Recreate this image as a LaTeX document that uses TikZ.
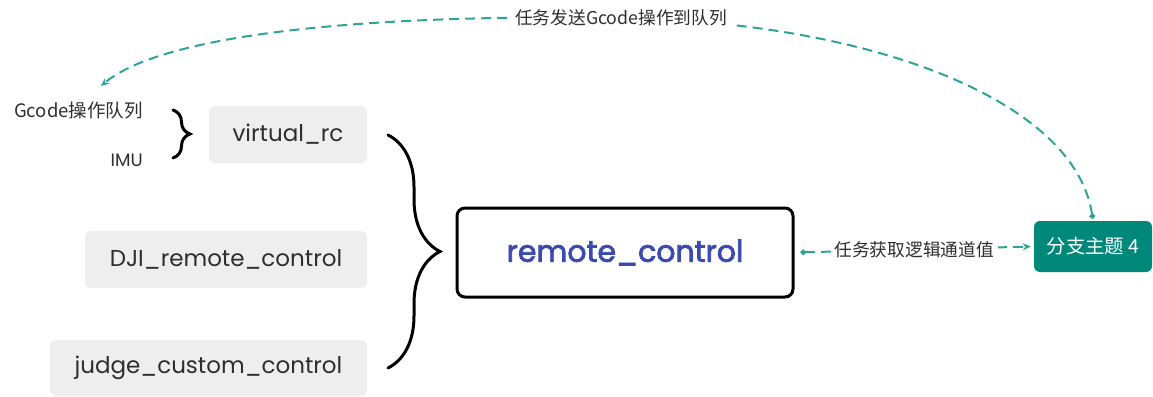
\documentclass[tikz,border=0pt]{standalone}
\usepackage{fontspec}
\setmainfont{Poppins}
\newfontfamily\zhfont{Noto Sans CJK SC}
\newfontfamily\rcfont{Poppins}[FakeBold=2.5]
\usetikzlibrary{arrows.meta,decorations.pathreplacing,calc}

\definecolor{leafgray}{HTML}{EEEEEE}
\definecolor{txtgray}{HTML}{2E2E2E}
\definecolor{rcblue}{HTML}{3A4AAE}
\definecolor{branchteal}{HTML}{00897B}
\definecolor{flowteal}{HTML}{2FA396}

\tikzset{
  leaf/.style={fill=leafgray, rounded corners=6pt, text=txtgray,
    font=\fontsize{23}{27}\selectfont},
  mainbox/.style={draw=black, line width=3pt, rounded corners=8pt, fill=white,
    text=rcblue, font=\rcfont\fontsize{30}{34}\selectfont},
  branchbox/.style={fill=branchteal, rounded corners=6pt, text=white,
    font=\zhfont\fontsize{19.4}{22}\selectfont},
  note/.style={text=txtgray, font=\zhfont\fontsize{18.5}{22}\selectfont, inner sep=1pt},
  flow/.style={draw=flowteal, line width=2pt, dash pattern=on 10pt off 6pt,
    {Circle[length=5.5pt]}-{Stealth[length=8pt,width=7pt]}},
  flowlabel/.style={fill=white, text=txtgray, font=\zhfont\fontsize{17.7}{21}\selectfont,
    inner sep=4pt},
  bracepath/.style={draw=black, line width=3pt, line cap=round, decorate}
}

\begin{document}
\begin{tikzpicture}[x=1pt,y=-1pt]
  \useasboundingbox (0,0) rectangle (1153,396);

  % leaves
  \node[leaf, minimum width=158pt, minimum height=57pt] (virtualrc) at (288,134.5) {virtual\_rc};
  \node[leaf, minimum width=282pt, minimum height=57pt] (djirc) at (226,259.5) {DJI\_remote\_control};
  \node[leaf, minimum width=317pt, minimum height=56pt] (judgecc) at (208.5,368) {judge\_custom\_control};

  % main topic and branch
  \node[mainbox, minimum width=336pt, minimum height=89pt] (rc) at (625,252.5) {remote\_control};
  \node[branchbox, minimum width=118pt, minimum height=51pt] (branch) at (1093,246.5) {分支主题 4};

  % sub items of virtual_rc
  \node[note, anchor=east] (gcodeq) at (144,111) {Gcode操作队列};
  \node[note, anchor=east, font=\fontsize{18}{21}\selectfont] (imu) at (144,160) {IMU};

  % braces
  \draw[bracepath, decoration={brace, amplitude=17pt}] (173,110) -- (173,158);
  \draw[bracepath, decoration={brace, amplitude=52pt}] (388,135) -- (388,368);

  % relations
  \draw[flow, shorten <=6pt, shorten >=3pt] (rc.east) -- (branch.west)
    node[flowlabel, midway] (getlbl) {任务获取逻辑通道值};
  \coordinate (gcodeend) at (101,86);
  \coordinate (toppt) at (621,18);
  \draw[flow, shorten <=2pt] (branch.north) .. controls (1075,100) and (870,22) .. (toppt)
    .. controls (380,14) and (165,32) .. (gcodeend);
  \node[flowlabel] (sendlbl) at (toppt) {任务发送Gcode操作到队列};
\end{tikzpicture}
\end{document}
